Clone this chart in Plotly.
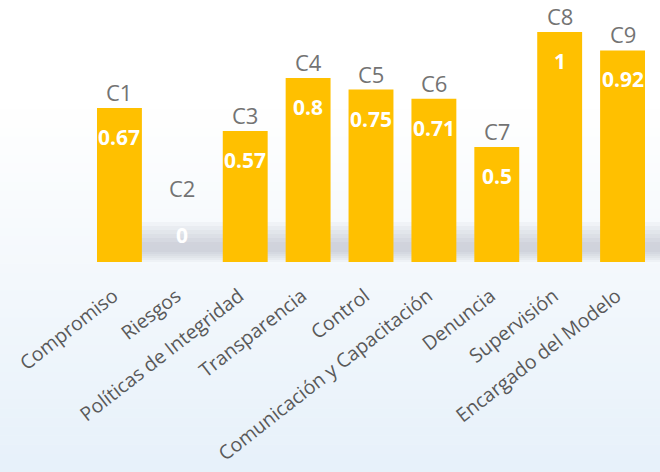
import plotly.graph_objects as go

categories = ["Compromiso", "Riesgos", "Políticas de Integridad", "Transparencia", "Control",
              "Comunicación y Capacitación", "Denuncia", "Supervisión", "Encargado del Modelo"]
codes = ["C1", "C2", "C3", "C4", "C5", "C6", "C7", "C8", "C9"]
values = [0.67, 0, 0.57, 0.8, 0.75, 0.71, 0.5, 1, 0.92]

W, H = 660, 472
ML, MR, MT, MB = 88, 6, 9, 210
pw, ph = W - ML - MR, H - MT - MB

def px_to_paper_x(px):
    return (px - ML) / pw

def px_to_paper_y(py):
    return (H - MB - py) / ph

fig = go.Figure()
fig.add_trace(go.Bar(
    x=categories, y=values, marker=dict(color="#FFC000", line=dict(width=0)),
    hoverinfo="skip", showlegend=False,
))

shapes = []
# background vertical gradient (white top -> light blue bottom)
n = 40
top_c = (255, 255, 255)
bot_c = (231, 241, 250)
start = 110
for i in range(n):
    y0 = start + (H - start) * i / n
    y1 = start + (H - start) * (i + 1) / n
    t = (i + 0.5) / n
    c = tuple(int(top_c[k] + (bot_c[k] - top_c[k]) * t) for k in range(3))
    shapes.append(dict(type="rect", xref="paper", yref="paper",
                       x0=px_to_paper_x(0), x1=px_to_paper_x(W),
                       y0=px_to_paper_y(y1), y1=px_to_paper_y(y0) + 0.002,
                       fillcolor="rgb(%d,%d,%d)" % c, line=dict(width=0), layer="below"))
# soft blurred shadow behind bars near the baseline
for i in range(6):
    shapes.append(dict(type="rect", xref="paper", yref="paper",
                       x0=px_to_paper_x(141), x1=px_to_paper_x(W),
                       y0=px_to_paper_y(262 - i * 2), y1=px_to_paper_y(222 + i * 4),
                       fillcolor="rgba(110,118,128,0.05)", line=dict(width=0), layer="below"))

annotations = []
for cat, code, v in zip(categories, codes, values):
    vshift = -29 if v > 0 else 27
    cshift = 16 if v > 0 else 74
    annotations.append(dict(x=cat, y=v, xref="x", yref="y", text="<b>%g</b>" % v,
                            showarrow=False, yshift=vshift,
                            font=dict(family="Open Sans", size=21, color="#FFFFFF")))
    annotations.append(dict(x=cat, y=v, xref="x", yref="y", text=code,
                            showarrow=False, yshift=cshift,
                            font=dict(family="Open Sans", size=22, color="#737373")))

fig.update_layout(
    width=W, height=H,
    margin=dict(l=ML, r=MR, t=MT, b=MB, pad=0),
    paper_bgcolor="#FFFFFF", plot_bgcolor="rgba(0,0,0,0)",
    bargap=0.286,
    shapes=shapes, annotations=annotations,
    xaxis=dict(tickangle=-38, tickfont=dict(family="Open Sans", size=19.5, color="#595959"),
               showgrid=False, showline=False, zeroline=False, ticks="",
               ticklabelstandoff=18, ticklabelshift=-6, fixedrange=True),
    yaxis=dict(range=[0, 1.1], visible=False, fixedrange=True),
)

fig.write_html("out.html", config={"displayModeBar": False},
               post_script="document.body.style.margin='0';document.body.style.overflow='hidden';")
